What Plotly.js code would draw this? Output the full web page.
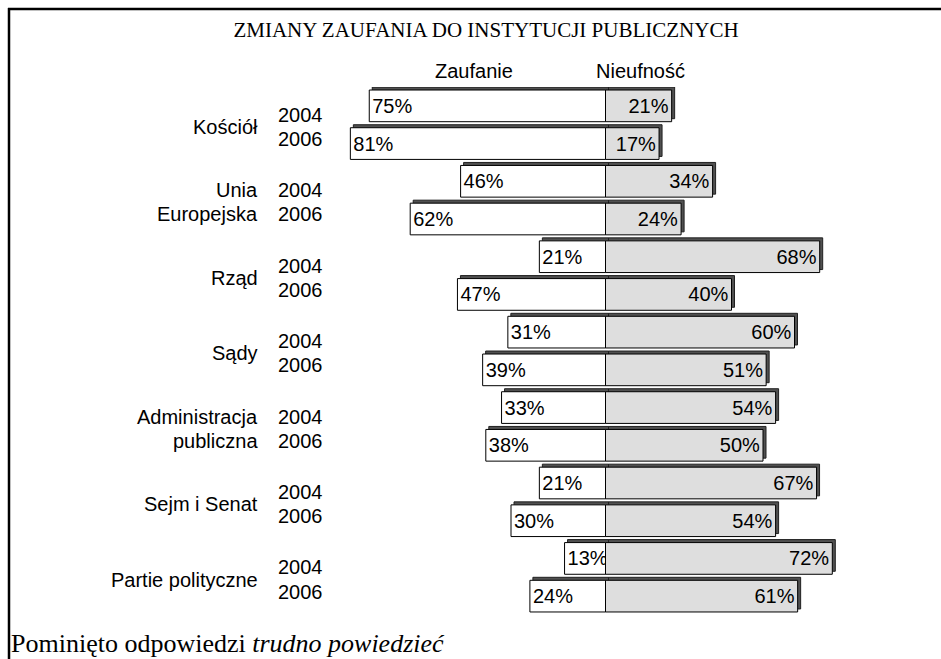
<!DOCTYPE html>
<html>
<head>
<meta charset="utf-8">
<script src="https://cdn.plot.ly/plotly-3.0.1.min.js"></script>
<style>
  html, body { margin: 0; padding: 0; background: #ffffff; }
  #chart { width: 941px; height: 659px; }
</style>
</head>
<body>
<div id="chart"></div>
<script>
// ---- data ----
const categoryLines = [
  ["Kościół"],
  ["Unia", "Europejska"],
  ["Rząd"],
  ["Sądy"],
  ["Administracja", "publiczna"],
  ["Sejm i Senat"],
  ["Partie polityczne"]
];
const years = ["2004", "2006"];
const trust2004    = [75, 46, 21, 31, 33, 21, 13];
const trust2006    = [81, 62, 47, 39, 38, 30, 24];
const distrust2004 = [21, 34, 68, 60, 54, 67, 72];
const distrust2006 = [17, 24, 40, 51, 50, 54, 61];
const seriesNames = ["Zaufanie", "Nieufność"];
const chartTitle = "ZMIANY ZAUFANIA DO INSTYTUCJI PUBLICZNYCH";
const footNote = "Pominięto odpowiedzi <i>trudno powiedzieć</i>";

// ---- layout geometry ----
const W = 941, H = 659;
const M = { l: 322, r: 52, t: 87, b: 44 };
const plotW = W - M.l - M.r, plotH = H - M.t - M.b;
const xMax = 90;
const nRows = categoryLines.length * years.length;
const pxPerX = plotW / (2 * xMax);
const pxPerY = plotH / nRows;
const depth = 3; // 3D depth in px
const dx = depth / pxPerX, dy = depth / pxPerY;

// rows: group g, year k -> row index 2g+k
const rowY = [], trustVals = [], distrustVals = [];
categoryLines.forEach((c, g) => {
  rowY.push(2 * g, 2 * g + 1);
  trustVals.push(trust2004[g], trust2006[g]);
  distrustVals.push(distrust2004[g], distrust2006[g]);
});

const sans = "Liberation Sans, Arial, sans-serif";
const serif = "Liberation Serif, Times New Roman, serif";
const labelSize = 20;

const traces = [];
// shadow (3D depth) bars on the shifted base axes
traces.push({
  type: "bar", orientation: "h", y: rowY, x: trustVals.map(v => -v),
  marker: { color: "#505050", line: { color: "#202020", width: 1 } },
  hoverinfo: "skip", showlegend: false, xaxis: "x", yaxis: "y"
});
traces.push({
  type: "bar", orientation: "h", y: rowY, x: distrustVals,
  marker: { color: "#505050", line: { color: "#202020", width: 1 } },
  hoverinfo: "skip", showlegend: false, xaxis: "x", yaxis: "y"
});
// front bars
traces.push({
  type: "bar", orientation: "h", name: seriesNames[0], y: rowY, x: trustVals.map(v => -v),
  text: trustVals.map(v => v + "%"), textposition: "inside", insidetextanchor: "end",
  textangle: 0, constraintext: "none",
  insidetextfont: { family: sans, size: labelSize, color: "#000" },
  marker: { color: "#ffffff", line: { color: "#000", width: 1 } },
  showlegend: false, xaxis: "x2", yaxis: "y2",
  hovertemplate: "%{text}<extra>" + seriesNames[0] + "</extra>"
});
traces.push({
  type: "bar", orientation: "h", name: seriesNames[1], y: rowY, x: distrustVals,
  text: distrustVals.map(v => v + "%"), textposition: "inside", insidetextanchor: "end",
  textangle: 0, constraintext: "none",
  insidetextfont: { family: sans, size: labelSize, color: "#000" },
  marker: { color: "#dedede", line: { color: "#000", width: 1 } },
  showlegend: false, xaxis: "x2", yaxis: "y2",
  hovertemplate: "%{text}<extra>" + seriesNames[1] + "</extra>"
});

const hidden = { showgrid: false, zeroline: false, showticklabels: false, ticks: "", showline: false, fixedrange: true };

const annotations = [];
// category labels and year labels
const yearHalf = 0.32, yearShift = 0.06;
categoryLines.forEach((lines, g) => {
  const center = 2 * g + 0.5 + yearShift;
  years.forEach((yr, k) => {
    annotations.push({
      xref: "paper", yref: "y2", x: -0.082, y: center + (k === 0 ? -yearHalf : yearHalf),
      text: yr, showarrow: false, xanchor: "left", yanchor: "middle",
      font: { family: sans, size: labelSize, color: "#000" }
    });
  });
  if (lines.length === 1) {
    annotations.push({
      xref: "paper", yref: "y2", x: -0.109, y: center,
      text: lines[0], showarrow: false, xanchor: "right", yanchor: "middle",
      font: { family: sans, size: labelSize, color: "#000" }
    });
  } else {
    lines.forEach((ln, k) => annotations.push({
      xref: "paper", yref: "y2", x: -0.109, y: center + (k === 0 ? -yearHalf : yearHalf),
      text: ln, showarrow: false, xanchor: "right", yanchor: "middle",
      font: { family: sans, size: labelSize, color: "#000" }
    }));
  }
});
// series headers
annotations.push({ xref: "paper", yref: "paper", x: 0.268, y: 1.03, text: seriesNames[0],
  showarrow: false, xanchor: "center", yanchor: "middle", font: { family: sans, size: labelSize, color: "#000" } });
annotations.push({ xref: "paper", yref: "paper", x: 0.5626, y: 1.03, text: seriesNames[1],
  showarrow: false, xanchor: "center", yanchor: "middle", font: { family: sans, size: labelSize, color: "#000" } });
// footnote (bottom-left, below plot area)
annotations.push({ xref: "paper", yref: "paper", x: (9 - M.l) / plotW, y: (H - M.b - 643) / plotH, text: footNote,
  showarrow: false, xanchor: "left", yanchor: "middle", font: { family: serif, size: 26, color: "#000" } });

const layout = {
  width: W, height: H,
  margin: M,
  paper_bgcolor: "#ffffff", plot_bgcolor: "rgba(0,0,0,0)",
  title: { text: chartTitle, font: { family: serif, size: 21, color: "#000" },
           x: 486 / W, xref: "container", xanchor: "center", y: 1 - 30 / H, yref: "container", yanchor: "middle" },
  barmode: "relative", bargap: 0.16,
  showlegend: false,
  xaxis: Object.assign({ range: [-xMax - dx, xMax - dx] }, hidden),
  yaxis: Object.assign({ range: [nRows - 0.5 + dy, -0.5 + dy] }, hidden),
  xaxis2: Object.assign({ range: [-xMax, xMax], overlaying: "x" }, hidden),
  yaxis2: Object.assign({ range: [nRows - 0.5, -0.5], overlaying: "y" }, hidden),
  uniformtext: { mode: "show", minsize: labelSize },
  annotations: annotations,
  shapes: [
    { type: "line", xref: "paper", yref: "paper",
      x0: (8 - M.l) / plotW, x1: (W - M.l) / plotW, y0: (H - M.b - 9) / plotH, y1: (H - M.b - 9) / plotH,
      line: { color: "#000", width: 2.5 } },
    { type: "line", xref: "paper", yref: "paper",
      x0: (9 - M.l) / plotW, x1: (9 - M.l) / plotW, y0: (H - M.b - 8) / plotH, y1: (-M.b - 2) / plotH,
      line: { color: "#000", width: 2.5 } }
  ]
};

Plotly.newPlot("chart", traces, layout, { displayModeBar: false, staticPlot: true });
</script>
</body>
</html>
